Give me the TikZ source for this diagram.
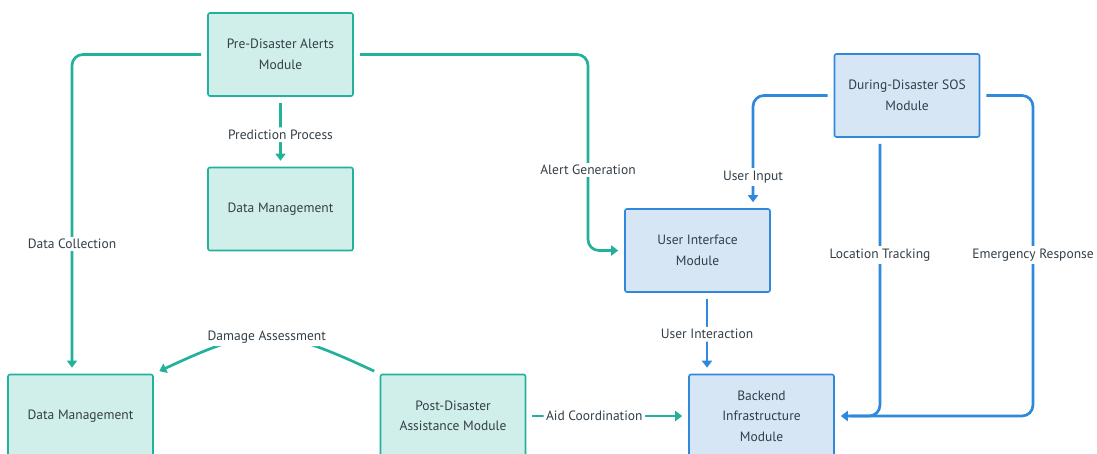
\documentclass[tikz,border=0pt]{standalone}
\usepackage{fontspec}
\setmainfont{PT Sans}
\usetikzlibrary{arrows.meta,calc}
\definecolor{tealline}{HTML}{22B19A}
\definecolor{tealfill}{HTML}{D1EFEA}
\definecolor{blueline}{HTML}{3088DC}
\definecolor{bluefill}{HTML}{D6E6F5}
\definecolor{txt}{HTML}{333F48}
\tikzset{
  box/.style={rounded corners=2pt, line width=1.6pt, minimum width=145pt, minimum height=83pt, align=center, text=txt, font=\fontsize{13.5}{20.5}\selectfont, inner sep=0pt},
  tealbox/.style={box, draw=tealline, fill=tealfill},
  bluebox/.style={box, draw=blueline, fill=bluefill},
  conn/.style={line width=2.7pt, rounded corners=11pt, shorten <=6pt, shorten >=6pt, -{Triangle[length=7pt,width=10pt]}},
  tconn/.style={conn, draw=tealline},
  bconn/.style={conn, draw=blueline},
  plain/.style={line width=2.7pt, rounded corners=11pt, shorten <=6pt},
  lbl/.style={fill=white, text=txt, font=\fontsize{13.5}{15}\selectfont, inner sep=2.5pt},
}
\begin{document}
\begin{tikzpicture}[x=1pt,y=-1pt]
\useasboundingbox (0,0) rectangle (1097,453);
\clip (0,0) rectangle (1097,453);
% nodes
\node[tealbox] (pre) at (280.5,54.5) {Pre-Disaster Alerts\\Module};
\node[tealbox] (dm1) at (280.5,209) {Data Management};
\node[tealbox] (dm2) at (80.5,416) {Data Management};
\node[tealbox] (post) at (453,416) {Post-Disaster\\Assistance Module};
\node[bluebox] (back) at (761.5,416) {Backend\\Infrastructure\\Module};
\node[bluebox] (ui) at (697.5,250.5) {User Interface\\Module};
\node[bluebox] (sos) at (907,95.5) {During-Disaster SOS\\Module};
% helper coordinates
\coordinate (cx1) at (72,0);
\coordinate (cx3) at (588,0);
\coordinate (cx4) at (753,0);
\coordinate (cx5) at (880,0);
\coordinate (cx6) at (1033,0);
\coordinate (cx7) at (707,0);
% teal connectors
\draw[tconn] (pre.west) -- (pre.west -| cx1) -- (cx1 |- dm2.north);
\node[lbl] at (72,244) {Data Collection};
\draw[tconn] (pre.south) -- (dm1.north) node[lbl, midway, yshift=-3pt] {Prediction Process};
\draw[tconn] (pre.east) -- (pre.east -| cx3) -- (cx3 |- ui.west) -- (ui.west);
\node[lbl] at (588,170) {Alert Generation};
\draw[tconn] (post.north west) to[out=155, in=25, looseness=1.3] node[lbl, pos=0.5] {Damage Assessment} (dm2.north east);
\draw[tconn] (post.east) -- (back.west) node[lbl, pos=0.42] {Aid Coordination};
% blue connectors
\draw[bconn] (sos.west) -- (sos.west -| cx4) -- (cx4 |- ui.north);
\node[lbl] at (753,177) {User Input};
\draw[bconn] (ui.south -| cx7) -- (cx7 |- back.north) node[lbl, midway, yshift=-1pt] {User Interaction};
\draw[plain, draw=blueline] (sos.south -| cx5) -- (cx5 |- back.east) -- ++(-30,0);
\draw[bconn] (sos.east) -- (sos.east -| cx6) -- (cx6 |- back.east) -- (back.east);
\node[lbl] at (880,255) {Location Tracking};
\node[lbl] at (1033,255) {Emergency Response};
\end{tikzpicture}
\end{document}
